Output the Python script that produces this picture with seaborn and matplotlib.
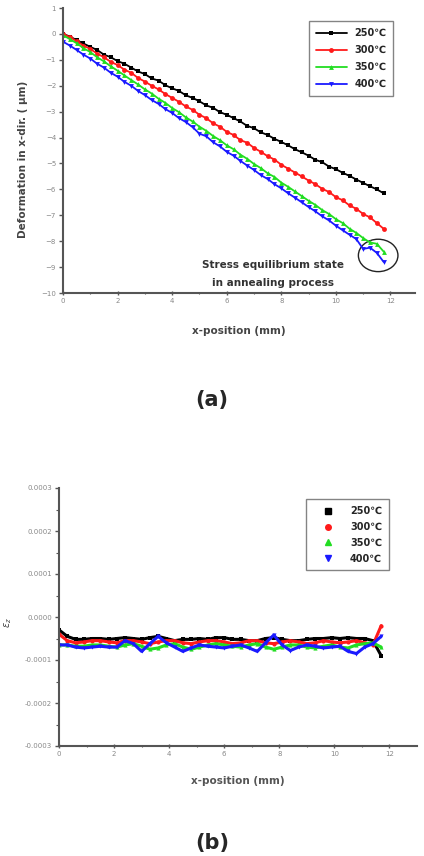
import matplotlib
matplotlib.use("Agg")
import matplotlib.pyplot as plt
from matplotlib.patches import Ellipse
from matplotlib.lines import Line2D
import seaborn as sns
import pandas as pd
import numpy as np

sns.set_style("ticks")
plt.rcParams['font.family'] = ['DejaVu Sans', 'Noto Sans CJK SC']

labels = ["250\u2103", "300\u2103", "350\u2103", "400\u2103"]
colors = ["#000000", "#ff1a1a", "#22dd22", "#1a1aff"]
markers = ["s", "o", "^", "v"]

# ---- panel (a): deformation vs x-position ----
xa = [0.0, 0.25, 0.5, 0.75, 1.0, 1.25, 1.5, 1.75, 2.0, 2.25, 2.5, 2.75,
      3.0, 3.25, 3.5, 3.75, 4.0, 4.25, 4.5, 4.75, 5.0, 5.25, 5.5, 5.75,
      6.0, 6.25, 6.5, 6.75, 7.0, 7.25, 7.5, 7.75, 8.0, 8.25, 8.5, 8.75,
      9.0, 9.25, 9.5, 9.75, 10.0, 10.25, 10.5, 10.75, 11.0, 11.25, 11.5, 11.75]
def_250 = [0.00, -0.10, -0.24, -0.37, -0.50, -0.62, -0.80, -0.90, -1.05, -1.15, -1.30, -1.45,
           -1.55, -1.72, -1.80, -1.98, -2.10, -2.20, -2.37, -2.47, -2.60, -2.76, -2.85, -3.02,
           -3.12, -3.25, -3.38, -3.55, -3.64, -3.80, -3.90, -4.05, -4.17, -4.30, -4.45, -4.57,
           -4.70, -4.86, -4.95, -5.12, -5.22, -5.36, -5.48, -5.62, -5.75, -5.88, -6.00, -6.15]
def_300 = [0.00, -0.12, -0.28, -0.45, -0.58, -0.76, -0.90, -1.08, -1.20, -1.38, -1.50, -1.70,
           -1.84, -2.00, -2.14, -2.32, -2.47, -2.62, -2.80, -2.93, -3.12, -3.25, -3.45, -3.58,
           -3.78, -3.90, -4.10, -4.20, -4.40, -4.55, -4.72, -4.85, -5.05, -5.20, -5.35, -5.50,
           -5.66, -5.80, -5.98, -6.10, -6.30, -6.42, -6.62, -6.75, -6.95, -7.08, -7.30, -7.52]
def_350 = [-0.05, -0.20, -0.36, -0.55, -0.70, -0.90, -1.06, -1.25, -1.42, -1.60, -1.78, -1.95,
           -2.14, -2.30, -2.50, -2.66, -2.86, -3.02, -3.22, -3.38, -3.58, -3.74, -3.94, -4.10,
           -4.30, -4.45, -4.66, -4.82, -5.02, -5.18, -5.38, -5.52, -5.74, -5.90, -6.08, -6.26,
           -6.44, -6.60, -6.80, -6.95, -7.15, -7.30, -7.52, -7.68, -7.88, -8.05, -8.10, -8.40]
def_400 = [-0.30, -0.45, -0.62, -0.80, -0.95, -1.15, -1.30, -1.50, -1.65, -1.85, -2.00, -2.20,
           -2.36, -2.55, -2.70, -2.90, -3.05, -3.25, -3.40, -3.60, -3.85, -3.95, -4.18, -4.34,
           -4.55, -4.70, -4.90, -5.08, -5.25, -5.45, -5.60, -5.80, -5.96, -6.15, -6.32, -6.50,
           -6.68, -6.85, -7.04, -7.20, -7.40, -7.58, -7.75, -7.92, -8.30, -8.25, -8.45, -8.80]

# ---- panel (b): strain vs x-position (values in units of 1e-4) ----
xb = [0.0, 0.3, 0.6, 0.9, 1.2, 1.5, 1.8, 2.1, 2.4, 2.7, 3.0, 3.3, 3.6, 3.9,
      4.2, 4.5, 4.8, 5.1, 5.4, 5.7, 6.0, 6.3, 6.6, 6.9, 7.2, 7.5, 7.8, 8.1,
      8.4, 8.7, 9.0, 9.3, 9.6, 9.9, 10.2, 10.5, 10.8, 11.1, 11.4, 11.7]
eps_250 = [-0.30, -0.45, -0.52, -0.52, -0.50, -0.50, -0.52, -0.50, -0.48, -0.50,
           -0.52, -0.48, -0.45, -0.50, -0.55, -0.52, -0.52, -0.50, -0.52, -0.48,
           -0.48, -0.52, -0.52, -0.55, -0.55, -0.50, -0.48, -0.52, -0.55, -0.55,
           -0.52, -0.50, -0.50, -0.48, -0.50, -0.48, -0.50, -0.50, -0.55, -0.90]
eps_300 = [-0.40, -0.55, -0.60, -0.58, -0.55, -0.55, -0.58, -0.60, -0.55, -0.55,
           -0.58, -0.62, -0.58, -0.55, -0.55, -0.60, -0.62, -0.58, -0.55, -0.55,
           -0.58, -0.62, -0.60, -0.55, -0.55, -0.60, -0.62, -0.58, -0.55, -0.58,
           -0.62, -0.60, -0.55, -0.58, -0.60, -0.58, -0.55, -0.60, -0.65, -0.20]
eps_350 = [-0.65, -0.65, -0.68, -0.68, -0.65, -0.65, -0.68, -0.70, -0.65, -0.62,
           -0.68, -0.75, -0.72, -0.65, -0.62, -0.70, -0.75, -0.70, -0.65, -0.62,
           -0.65, -0.68, -0.70, -0.65, -0.62, -0.70, -0.75, -0.70, -0.65, -0.65,
           -0.70, -0.72, -0.68, -0.65, -0.70, -0.72, -0.65, -0.62, -0.60, -0.70]
eps_400 = [-0.65, -0.65, -0.70, -0.72, -0.70, -0.68, -0.70, -0.70, -0.55, -0.62,
           -0.80, -0.62, -0.45, -0.60, -0.70, -0.80, -0.72, -0.65, -0.68, -0.70,
           -0.72, -0.68, -0.65, -0.72, -0.80, -0.60, -0.42, -0.65, -0.78, -0.70,
           -0.65, -0.68, -0.72, -0.70, -0.68, -0.80, -0.85, -0.70, -0.62, -0.45]

W, H = 424, 856
fig = plt.figure(figsize=(W / 100, H / 100), dpi=100)

def px_axes(left, top, right, bottom):
    return fig.add_axes([left / W, 1 - bottom / H, (right - left) / W, (bottom - top) / H])

axis_col = "#555555"
tick_col = "#888888"

def style_axes(ax):
    sns.despine(ax=ax)
    for s in ("left", "bottom"):
        ax.spines[s].set_color(axis_col)
        ax.spines[s].set_linewidth(1.5)
    ax.tick_params(axis="both", which="major", direction="out", length=3, width=1,
                   color=axis_col, labelsize=5, labelcolor=tick_col, pad=2)
    ax.tick_params(axis="both", which="minor", direction="out", length=2, width=0.8,
                   color=axis_col)
    ax.tick_params(axis="x", which="both", direction="inout")

# ---------- panel (a) ----------
ax1 = px_axes(63, 8, 415, 293)
series_a = [def_250, def_300, def_350, def_400]
for lab, col, mk, ys in zip(labels, colors, markers, series_a):
    sns.lineplot(x=xa, y=ys, color=col, marker=mk, markersize=3.5, markeredgewidth=0,
                 linewidth=1.3, label=lab, ax=ax1)
ax1.set_xlim(0, 12.9)
ax1.set_ylim(-10, 1)
ax1.set_xticks([0, 2, 4, 6, 8, 10, 12])
ax1.set_xticks([1, 3, 5, 7, 9, 11], minor=True)
ax1.set_yticks(list(range(-10, 2)))
style_axes(ax1)
ax1.set_xlabel("x-position (mm)", fontsize=7.5, fontweight="bold", color="#444444")
ax1.xaxis.set_label_coords(0.50, -0.115)
ax1.set_ylabel("Deformation in x-dir. ( \u03bcm)", fontsize=7.5, fontweight="bold",
               color="#444444")
ax1.yaxis.set_label_coords(-0.10, 0.47)
leg = ax1.legend(loc="upper right", bbox_to_anchor=(0.952, 0.97), frameon=True,
                 fancybox=False, edgecolor="#666666", handlelength=3.2, borderpad=0.7,
                 labelspacing=0.72, prop={"weight": "bold", "size": 7})
leg.get_frame().set_linewidth(1.0)
ax1.text(7.7, -8.9, "Stress equilibrium state", ha="center", va="center",
         fontsize=7.5, fontweight="bold", color="#333333")
ax1.text(7.7, -9.6, "in annealing process", ha="center", va="center",
         fontsize=7.5, fontweight="bold", color="#333333")
ax1.add_patch(Ellipse((11.55, -8.55), 1.45, 1.25, fill=False, edgecolor="#222222", linewidth=1.0))

fig.text(212 / W, 1 - 400 / H, "(a)", ha="center", va="center", fontsize=15, fontweight="bold")

# ---------- panel (b) ----------
ax2 = px_axes(59, 488, 417, 746)
series_b = [eps_250, eps_300, eps_350, eps_400]
for lab, col, mk, ys in zip(labels, colors, markers, series_b):
    sns.lineplot(x=xb, y=np.array(ys) * 1e-4, color=col, marker=mk, markersize=3,
                 markeredgewidth=0, linewidth=2.2, ax=ax2, legend=False)
ax2.set_xlim(0, 13)
ax2.set_ylim(-0.0003, 0.0003)
ax2.set_xticks([0, 2, 4, 6, 8, 10, 12])
ax2.set_xticks([1, 3, 5, 7, 9, 11], minor=True)
ax2.set_yticks([-0.0003, -0.0002, -0.0001, 0.0, 0.0001, 0.0002, 0.0003])
ax2.set_yticklabels(["-0.0003", "-0.0002", "-0.0001", "0.0000", "0.0001", "0.0002", "0.0003"])
ax2.set_yticks([-0.00025, -0.00015, -0.00005, 0.00005, 0.00015, 0.00025], minor=True)
style_axes(ax2)
ax2.set_xlabel("x-position (mm)", fontsize=7.5, fontweight="bold", color="#555555")
ax2.xaxis.set_label_coords(0.50, -0.115)
ax2.set_ylabel(r"$\varepsilon_{z}$", fontsize=7, color="#444444")
ax2.yaxis.set_label_coords(-0.125, 0.48)
handles = [Line2D([], [], linestyle="none", marker=mk, color=col, markersize=4)
           for col, mk in zip(colors, markers)]
leg2 = ax2.legend(handles, labels, loc="upper right", bbox_to_anchor=(0.935, 0.975),
                  frameon=True, fancybox=False, edgecolor="#666666", handlelength=3.0,
                  borderpad=0.7, labelspacing=0.6, prop={"weight": "bold", "size": 7})
leg2.get_frame().set_linewidth(1.0)

fig.text(212 / W, 1 - 843 / H, "(b)", ha="center", va="center", fontsize=15, fontweight="bold")

fig.savefig("out.png", dpi=100)
